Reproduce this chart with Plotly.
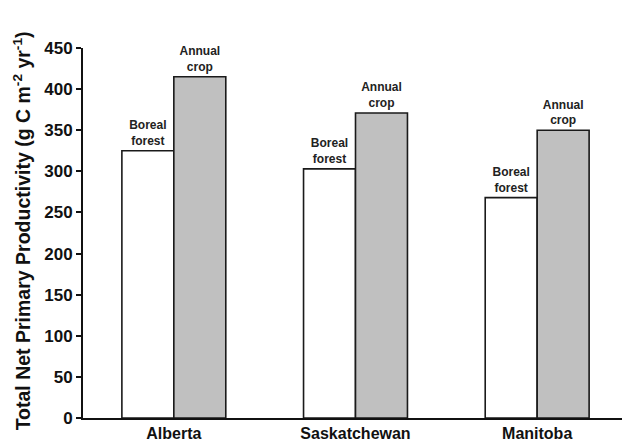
import plotly.graph_objects as go

provinces = ["Alberta", "Saskatchewan", "Manitoba"]
boreal_forest = [325, 303, 268]
annual_crop = [415, 371, 350]
y_ticks = [0, 50, 100, 150, 200, 250, 300, 350, 400, 450]

FONT = "Arial, 'Liberation Sans', sans-serif"

fig = go.Figure()
fig.add_trace(go.Bar(
    x=provinces, y=boreal_forest, name="Boreal forest",
    marker=dict(color="white", line=dict(color="#1a1a1a", width=1.6)),
    text=["<b>Boreal<br>forest</b>"] * len(provinces),
    textposition="outside", cliponaxis=False,
    textfont=dict(family=FONT, size=12, color="#222"),
))
fig.add_trace(go.Bar(
    x=provinces, y=annual_crop, name="Annual crop",
    marker=dict(color="#c0c0c0", line=dict(color="#1a1a1a", width=1.6)),
    text=["<b>Annual<br>crop</b>"] * len(provinces),
    textposition="outside", cliponaxis=False,
    textfont=dict(family=FONT, size=12, color="#222"),
))

# page body adds an 8px offset; figure sized to fit the 630x446 window
fig.update_layout(
    width=622, height=438,
    margin=dict(l=75, r=2, t=40, b=28, autoexpand=False),
    paper_bgcolor="white", plot_bgcolor="white",
    barmode="group", bargap=0.428, bargroupgap=0,
    showlegend=False,
    font=dict(family=FONT, color="#111"),
    xaxis=dict(
        range=[-0.5, 2.5], showline=True, linecolor="#111", linewidth=2,
        ticks="", showgrid=False, zeroline=False, automargin=False,
        tickfont=dict(family=FONT, size=16, color="#111", weight="bold"),
    ),
    yaxis=dict(
        range=[0, 450], tickvals=y_ticks, showline=True, linecolor="#111",
        linewidth=2, ticks="outside", ticklen=5, tickwidth=1.5, tickcolor="#111",
        showgrid=False, zeroline=False, automargin=False,
        tickfont=dict(family=FONT, size=17, color="#111", weight="bold"),
    ),
    annotations=[dict(
        text="<b>Total Net Primary Productivity (g C m<sup>-2</sup> yr<sup>-1</sup>)</b>",
        xref="paper", yref="paper", x=-0.112, y=0.507,
        xanchor="center", yanchor="middle", textangle=-90, showarrow=False,
        font=dict(family=FONT, size=19.5, color="#111"),
    )],
)

fig.write_html("out.html")
